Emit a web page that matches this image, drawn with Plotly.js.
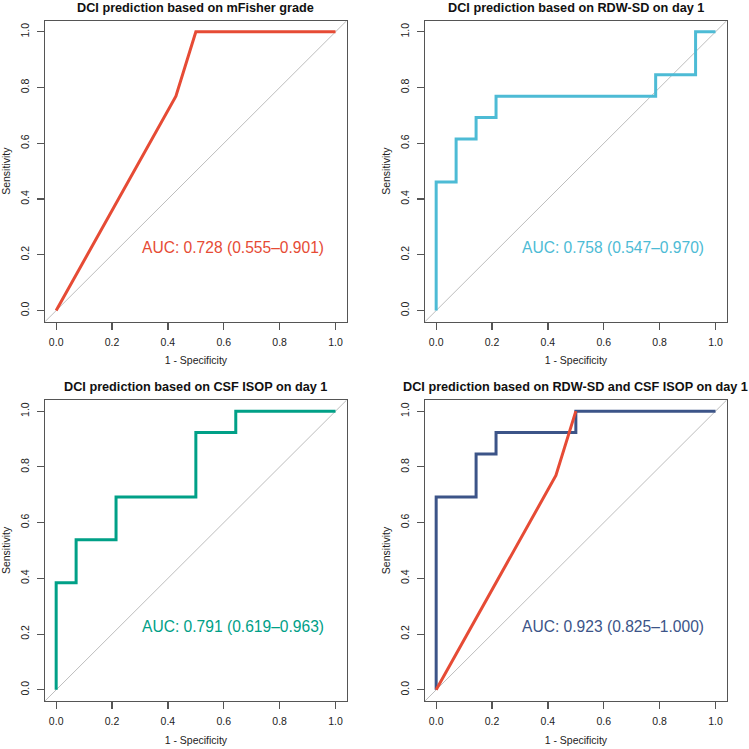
<!DOCTYPE html>
<html><head><meta charset="utf-8">
<script src="https://cdn.plot.ly/plotly-3.0.1.min.js"></script>
<style>html,body{margin:0;padding:0;background:#fff}#chart{width:749px;height:749px}</style>
</head><body><div id="chart"></div>
<script>
// ---- data ----
const panelTitles = [
  "DCI prediction based on mFisher grade",
  "DCI prediction based on RDW-SD on day 1",
  "DCI prediction based on CSF ISOP on day 1",
  "DCI prediction based on RDW-SD and CSF ISOP on day 1"
];
const aucLabels = [
  "AUC: 0.728 (0.555\u20130.901)",
  "AUC: 0.758 (0.547\u20130.970)",
  "AUC: 0.791 (0.619\u20130.963)",
  "AUC: 0.923 (0.825\u20131.000)"
];
// ROC points (1 - specificity, sensitivity)
const fisherFpr = [0, 0.4286, 0.5, 1];
const fisherTpr = [0, 0.7692, 1, 1];
const rdwFpr = [0, 0, 0.0714, 0.1429, 0.2143, 0.7857, 0.9286, 1];
const rdwTpr = [0, 0.4615, 0.6154, 0.6923, 0.7692, 0.8462, 1, 1];
const csfFpr = [0, 0, 0.0714, 0.2143, 0.5, 0.6429, 1];
const csfTpr = [0, 0.3846, 0.5385, 0.6923, 0.9231, 1, 1];
const comboFpr = [0, 0, 0.1429, 0.2143, 0.5, 1];
const comboTpr = [0, 0.6923, 0.8462, 0.9231, 1, 1];
const tickVals = [0, 0.2, 0.4, 0.6, 0.8, 1.0];
const tickText = ["0.0", "0.2", "0.4", "0.6", "0.8", "1.0"];
const xTitle = "1 - Specificity";
const yTitle = "Sensitivity";
const colors = ["#E64B35", "#4DBBD5", "#00A087", "#3C5488"];

// ---- layout geometry ----
const W = 749, H = 749;
const boxes = [ // [left, right, top, bottom] in px
  [45, 346.7, 20.7, 321.7],
  [425, 726.7, 20.7, 321.7],
  [45, 346.7, 400, 701],
  [425, 726.7, 400, 701]
];
const rng = [-0.04, 1.04];
const FONT = "Liberation Sans, Arial, sans-serif";

const traces = [];
const layout = {
  width: W, height: H,
  margin: {l: 0, r: 0, t: 0, b: 0},
  paper_bgcolor: "#fff", plot_bgcolor: "#fff",
  showlegend: false,
  font: {family: FONT, color: "#222"},
  annotations: []
};

function addCurve(i, xs, ys, color, shape) {
  const s = i === 0 ? "" : String(i + 1);
  traces.push({x: xs, y: ys, xaxis: "x" + s, yaxis: "y" + s, type: "scatter", mode: "lines",
    line: {color: color, width: 3, shape: shape}, hoverinfo: "skip"});
}

for (let i = 0; i < 4; i++) {
  const s = i === 0 ? "" : String(i + 1);
  const b = boxes[i];
  const axCommon = {
    range: rng, tickmode: "array", tickvals: tickVals, ticktext: tickText,
    showgrid: false, zeroline: false, showline: true, mirror: true,
    linecolor: "#555", linewidth: 1.2, ticks: "outside", ticklen: 7, tickwidth: 1.2,
    tickcolor: "#555", tickfont: {size: 10.5, color: "#222", family: FONT}, fixedrange: true
  };
  layout["xaxis" + s] = Object.assign({}, axCommon, {
    domain: [b[0] / W, b[1] / W], anchor: "y" + s, ticklabelstandoff: 3,
    title: {text: xTitle, font: {size: 10.5, color: "#222", family: FONT}, standoff: 10}
  });
  layout["yaxis" + s] = Object.assign({}, axCommon, {
    domain: [1 - b[3] / H, 1 - b[2] / H], anchor: "x" + s, tickangle: -90, ticklabelstandoff: 4,
    title: {text: yTitle, font: {size: 10.5, color: "#222", family: FONT}, standoff: 6}
  });
  // diagonal reference
  traces.push({x: rng, y: rng, xaxis: "x" + s, yaxis: "y" + s, type: "scatter", mode: "lines",
    line: {color: "#bdbdbd", width: 1}, hoverinfo: "skip"});
  layout.annotations.push({
    xref: "paper", yref: "paper", x: ((b[0] + b[1]) / 2) / W, y: 1 - (b[2] - 4) / H,
    xanchor: "center", yanchor: "bottom", showarrow: false,
    text: "<b>" + panelTitles[i] + "</b>", font: {size: 12.7, color: "#111", family: FONT}
  });
  layout.annotations.push({
    xref: "x" + s, yref: "y" + s, x: 0.3, y: 0.228, xanchor: "left", yanchor: "middle",
    showarrow: false, text: aucLabels[i], font: {size: 15.6, color: colors[i], family: FONT}
  });
}

addCurve(0, fisherFpr, fisherTpr, colors[0], "linear");
addCurve(1, rdwFpr, rdwTpr, colors[1], "hv");
addCurve(2, csfFpr, csfTpr, colors[2], "hv");
addCurve(3, comboFpr, comboTpr, colors[3], "hv");
addCurve(3, fisherFpr.slice(0, 3), fisherTpr.slice(0, 3), colors[0], "linear");

Plotly.newPlot("chart", traces, layout, {displayModeBar: false, staticPlot: true});
</script></body></html>
